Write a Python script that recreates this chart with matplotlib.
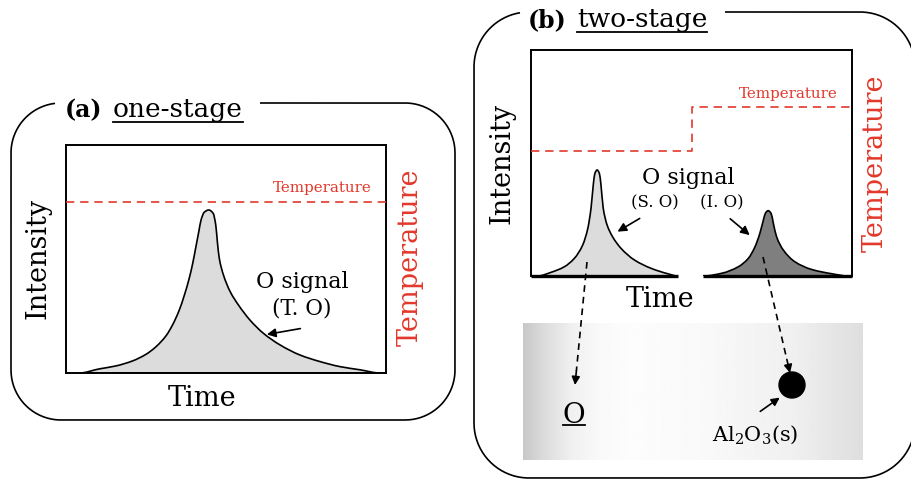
import numpy as np
import matplotlib

matplotlib.use("Agg")
import matplotlib.pyplot as plt
from matplotlib.path import Path
from matplotlib.patches import PathPatch, Circle

plt.rcParams["font.family"] = ["DejaVu Serif"]
plt.rcParams["mathtext.fontset"] = "dejavuserif"

W, H = 911, 480
RED = "#e2382b"

# (a) one-stage: total oxygen peak (time and intensity on a 0-100 scale)
a_time = [4.2, 10.4, 15.6, 20.8, 25.0, 28.1, 31.3, 33.3, 35.4, 37.0, 38.5, 39.6,
          40.6, 41.5, 42.2, 43.2, 44.6, 46.0, 46.8, 47.3, 47.9, 49.2, 51.3,
          53.9, 57.5, 61.7, 66.9, 73.1, 79.4, 85.6, 91.9, 98.1]
a_signal = [0, 1.8, 3.1, 5.3, 8.2, 11.5, 16.4, 21.1, 27.6, 34.2, 41.5, 48.1,
            55.4, 62.0, 67.1, 70.5, 71.5, 70.0, 64.9, 57.6, 50.3, 43.0, 35.7,
            29.8, 23.2, 17.4, 12.3, 7.9, 5.0, 2.8, 1.4, 0]
a_temp_time = [0, 100]
a_temp = [75, 75]

# (b) two-stage: surface oxygen (S. O) and inclusion oxygen (I. O) peaks
so_time = [2.1, 6.2, 10.4, 13.5, 16.1, 17.7, 18.7, 19.4, 19.9, 20.6, 21.3,
           21.8, 22.5, 23.7, 25.4, 28.0, 32.2, 37.4, 42.6, 45.7]
so_signal = [0, 1.6, 4.1, 7.8, 13.7, 21.1, 30.0, 40.3, 45.4, 46.9, 45.4,
             40.3, 30.0, 22.6, 17.4, 12.3, 7.1, 3.4, 1.0, 0]
io_time = [53.7, 59.4, 64.6, 67.7, 69.8, 71.3, 72.4, 73.1, 73.9, 74.8, 75.5,
           76.5, 78.6, 82.2, 87.4, 93.7, 98.8]
io_signal = [0, 1.2, 4.1, 7.8, 13.0, 18.9, 24.8, 28.0, 28.9, 27.7, 23.3,
             17.4, 11.5, 6.3, 2.9, 1.0, 0]
b_temp_time = [0, 50.2, 50.2, 100]
b_temp = [55.3, 55.3, 74.8, 74.8]

fig = plt.figure(figsize=(W / 100, H / 100), dpi=100, facecolor="white")


def px_axes(x0, y0, x1, y1):
    return fig.add_axes([x0 / W, 1 - y1 / H, (x1 - x0) / W, (y1 - y0) / H])


def peak_path(xs, ys):
    # smooth monotone curve through the read points, as cubic Bezier pieces
    x = np.asarray(xs, float)
    y = np.asarray(ys, float)
    h = np.diff(x)
    d = np.diff(y) / h
    m = np.zeros_like(x)
    for i in range(1, len(x) - 1):
        if d[i - 1] * d[i] > 0:
            w1, w2 = 2 * h[i] + h[i - 1], h[i] + 2 * h[i - 1]
            m[i] = (w1 + w2) / (w1 / d[i - 1] + w2 / d[i])
    verts = [(x[0], y[0])]
    codes = [Path.MOVETO]
    for i in range(len(x) - 1):
        verts += [(x[i] + h[i] / 3, y[i] + m[i] * h[i] / 3),
                  (x[i + 1] - h[i] / 3, y[i + 1] - m[i + 1] * h[i] / 3),
                  (x[i + 1], y[i + 1])]
        codes += [Path.CURVE4] * 3
    verts.append((x[0], y[0]))
    codes.append(Path.CLOSEPOLY)
    return Path(verts, codes)


def setup_plot(ax, lab):
    ax.set_xlim(0, 100)
    ax.set_ylim(0, 100)
    ax.set_xticks([])
    ax.set_yticks([])
    for s in ax.spines.values():
        s.set_linewidth(1.4)
    ax.set_xlabel("Time", fontsize=19.5, va="center")
    ax.set_ylabel("Intensity", fontsize=19.5, va="center")
    ax.xaxis.set_label_coords(lab[0], lab[1])
    ax.yaxis.set_label_coords(lab[2], lab[3])
    tw = ax.twinx()
    tw.set_ylim(0, 100)
    tw.set_yticks([])
    tw.set_ylabel("Temperature", fontsize=19.5, color=RED, va="center", rotation=90)
    tw.yaxis.set_label_coords(lab[4], lab[5])
    for s in tw.spines.values():
        s.set_visible(False)
    return tw


# ---- panel (a)
ax_a = px_axes(66, 145, 386, 373)
tw_a = setup_plot(ax_a, (0.425, -0.11, -0.0875, 0.504, 1.075, 0.509))
ax_a.add_patch(PathPatch(peak_path(a_time, a_signal), facecolor="#dcdcdc",
                         edgecolor="black", lw=1.2))
tw_a.plot(a_temp_time, a_temp, color=RED, lw=1.2, ls=(0, (5, 3.5)))
tw_a.text(95.6, 81.1, "Temperature", color=RED, fontsize=10.8, ha="right", va="center")
ax_a.text(73.8, 39.9, "O signal", fontsize=16, ha="center", va="center")
ax_a.text(73.8, 28.5, "(T. O)", fontsize=15.5, ha="center", va="center")
ax_a.annotate("", xy=(61.9, 16.7), xytext=(74.1, 19.7),
              arrowprops=dict(arrowstyle="-|>", color="black", lw=1.2, mutation_scale=13))

# ---- panel (b)
ax_b = px_axes(531, 50, 852, 276)
tw_b = setup_plot(ax_b, (0.402, -0.106, -0.090, 0.5, 1.072, 0.5))
ax_b.spines["bottom"].set_visible(False)
ax_b.add_patch(PathPatch(peak_path(so_time, so_signal), facecolor="#dcdcdc",
                         edgecolor="black", lw=1.2))
ax_b.add_patch(PathPatch(peak_path(io_time, io_signal), facecolor="#7f7f7f",
                         edgecolor="black", lw=1.2))
ax_b.plot([0, so_time[-1]], [0, 0], color="black", lw=2.4, solid_capstyle="butt", clip_on=False)
ax_b.plot([io_time[0], 100], [0, 0], color="black", lw=2.4, solid_capstyle="butt", clip_on=False)
tw_b.plot(b_temp_time, b_temp, color=RED, lw=1.2, ls=(0, (5, 3.5)))
tw_b.text(95.6, 80.5, "Temperature", color=RED, fontsize=10.8, ha="right", va="center")
ax_b.text(48.9, 43.4, "O signal", fontsize=16, ha="center", va="center")
ax_b.text(38.6, 32.3, "(S. O)", fontsize=12, ha="center", va="center")
ax_b.text(59.5, 32.3, "(I. O)", fontsize=12, ha="center", va="center")
ax_b.annotate("", xy=(26.2, 19.0), xytext=(34.6, 26.1),
              arrowprops=dict(arrowstyle="-|>", color="black", lw=1.2, mutation_scale=13))
ax_b.annotate("", xy=(68.8, 17.3), xytext=(61.4, 26.1),
              arrowprops=dict(arrowstyle="-|>", color="black", lw=1.2, mutation_scale=13))

# ---- overlay in pixel coordinates: frames, titles, bulk-metal sketch
ov = fig.add_axes([0, 0, 1, 1], zorder=5)
ov.patch.set_visible(False)
ov.axis("off")


def frame(x0, y0, x1, y1, r, gap0, gap1):
    # rounded frame, open along the top between gap0 and gap1 (y grows downward)
    def arc(cx, cy, a0, a1):
        a = np.radians(np.linspace(a0, a1, 40))
        return list(zip(cx + r * np.cos(a), cy + r * np.sin(a)))

    a_end = 360 - np.degrees(np.arccos(np.clip((gap0 - x0 - r) / r, -1, 1)))
    pts = [(gap1, y0)]
    pts += arc(x1 - r, y0 + r, -90, 0)
    pts += arc(x1 - r, y1 - r, 0, 90)
    pts += arc(x0 + r, y1 - r, 90, 180)
    pts += arc(x0 + r, y0 + r, 180, a_end)
    xs, ys = zip(*pts)
    ov.plot(xs, ys, color="black", lw=1.2, solid_capstyle="butt")


frame(11, 103, 455, 420, 50, 55, 260)
frame(474, 12, 915, 478, 55, 520, 725)

titles = []
ov.text(102, 117, "(a)", fontsize=17, fontweight="bold", ha="right", va="baseline", zorder=4)
titles.append(ov.text(113, 117, "one-stage", fontsize=19, ha="left", va="baseline", zorder=4))
ov.text(566, 27, "(b)", fontsize=17, fontweight="bold", ha="right", va="baseline", zorder=4)
titles.append(ov.text(577, 27, "two-stage", fontsize=19, ha="left", va="baseline", zorder=4))

# gradient steel block
stops_x = [0.0, 0.06, 0.14, 0.22, 0.32, 0.55, 0.8, 1.0]
stops_g = [0.78, 0.86, 0.94, 0.975, 0.99, 0.975, 0.94, 0.87]
gx = np.linspace(0, 1, 400)
grad = np.interp(gx, stops_x, stops_g)[None, :]
ov.imshow(grad, extent=(523, 863, 460, 323), aspect="auto", cmap="gray",
          vmin=0, vmax=1, zorder=1)

ov.add_patch(Circle((792, 385), 13, fc="black", ec="black", zorder=3))
titles.append(ov.text(574, 423, "O", fontsize=20, ha="center", va="baseline", zorder=3))
ov.text(755, 435, r"Al$_2$O$_3$(s)", fontsize=15, ha="center", va="center", zorder=3)
ov.annotate("", xy=(782, 396), xytext=(758, 413), zorder=3,
            arrowprops=dict(arrowstyle="-|>", color="black", lw=1.2, mutation_scale=12))

# dashed arrows from the peaks down to the oxygen states
for (x0, y0), (x1, y1) in [((587, 262), (575, 385)), ((763, 257), (790, 373))]:
    f = 14 / np.hypot(x1 - x0, y1 - y0)
    xm, ym = x1 - (x1 - x0) * f, y1 - (y1 - y0) * f
    ov.plot([x0, xm], [y0, ym], color="black", lw=1.2, ls=(0, (4, 3)), zorder=4)
    ov.annotate("", xy=(x1, y1), xytext=(xm, ym), zorder=4,
                arrowprops=dict(arrowstyle="-|>", color="black", lw=1.2, mutation_scale=12,
                                shrinkA=0, shrinkB=0))

ov.set_xlim(0, W)
ov.set_ylim(H, 0)

# underline the stage names and the dissolved O
fig.canvas.draw()
inv = ov.transData.inverted()
for t, dy in zip(titles, [0, 0, -4]):
    bb = t.get_window_extent()
    (xa, ya), (xb, yb) = inv.transform([[bb.x0, bb.y0], [bb.x1, bb.y1]])
    ov.plot([xa, xb], [max(ya, yb) + dy, max(ya, yb) + dy], color="black", lw=1.3, zorder=4)

fig.savefig("out.png", dpi=100, facecolor="white")
